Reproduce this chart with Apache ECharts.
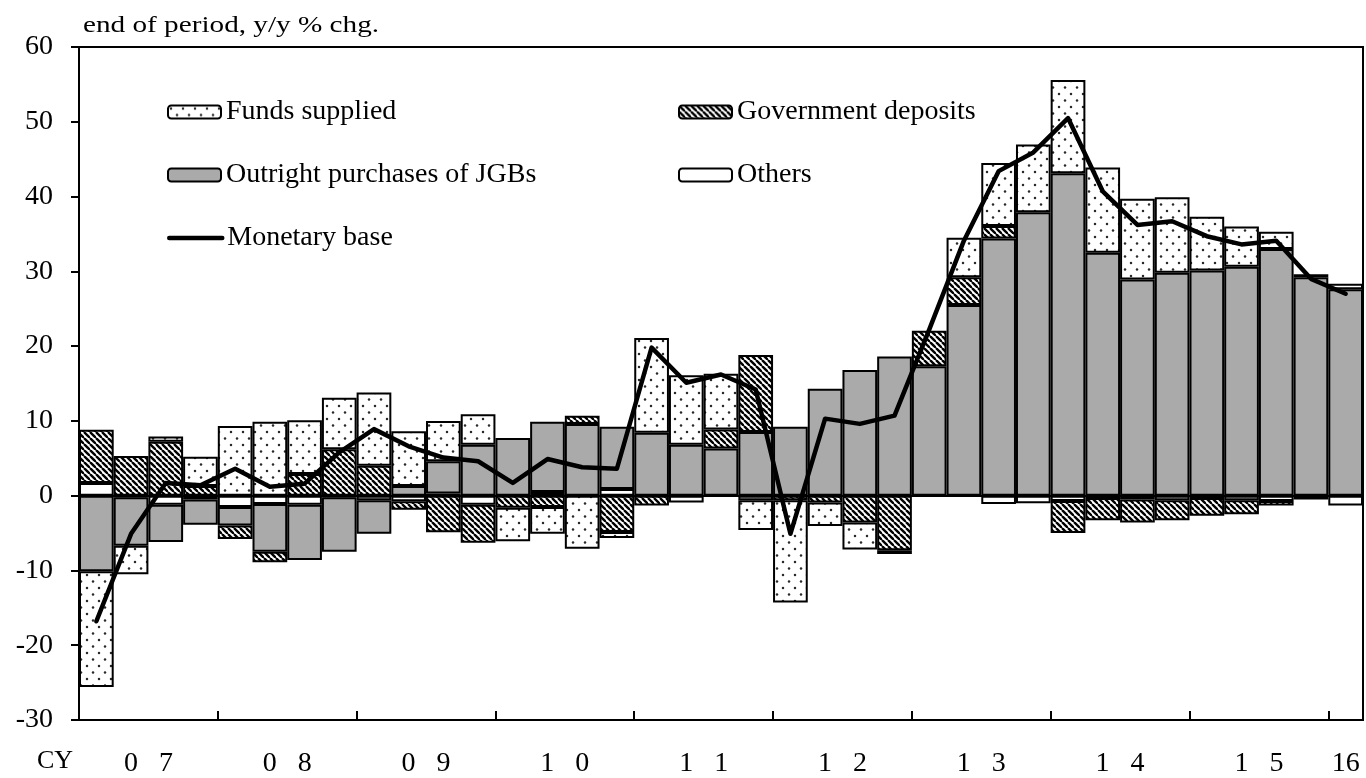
<!DOCTYPE html>
<html>
<head>
<meta charset="utf-8">
<script src="https://cdn.jsdelivr.net/npm/echarts@6/dist/echarts.min.js"></script>
<style>
html,body{margin:0;padding:0;background:#fff;}
#chart{width:1366px;height:778px;}
</style>
</head>
<body>
<div id="chart"></div>
<script>
// ---------- DATA ----------
const categories = [
  '2007Q1','2007Q2','2007Q3','2007Q4','2008Q1','2008Q2','2008Q3','2008Q4',
  '2009Q1','2009Q2','2009Q3','2009Q4','2010Q1','2010Q2','2010Q3','2010Q4',
  '2011Q1','2011Q2','2011Q3','2011Q4','2012Q1','2012Q2','2012Q3','2012Q4',
  '2013Q1','2013Q2','2013Q3','2013Q4','2014Q1','2014Q2','2014Q3','2014Q4',
  '2015Q1','2015Q2','2015Q3','2015Q4','2016Q1'
];
const others = [1.7,-0.2,-1.2,-0.5,-1.5,-1.1,-1.2,-0.2,-0.6,-0.75,0.3,-1.2,null,0.5,null,0.9,null,-0.9,null,-0.6,null,null,null,null,null,null,-1.1,-1.0,-0.7,-0.3,-0.5,-0.6,-0.3,-0.6,-0.7,-0.5,-1.3];
const jgbPurchases = [-10.1,-6.5,-5.0,-3.4,-2.5,-6.4,-7.4,-7.3,-4.5,1.3,4.3,6.8,7.7,9.4,9.6,8.3,8.4,6.8,6.3,8.5,9.2,14.3,16.8,18.6,17.3,25.5,34.4,37.9,43.1,32.5,28.9,29.8,30.1,30.6,33.0,29.2,27.6];
const govDeposits = [7.1,5.3,7.2,1.3,-1.8,-1.4,2.9,6.2,4.0,-1.15,-4.9,-5.1,-1.6,-1.5,1.1,-4.85,-1.3,null,2.55,10.3,-0.6,-0.9,-3.6,-7.3,4.75,3.7,1.65,null,-4.3,-3.0,-3.1,-2.7,-2.4,-1.9,-0.6,null,null];
const fundsSupplied = [-15.5,-3.8,0.7,3.9,9.3,9.9,7.2,6.9,9.8,7.3,5.4,4.1,-4.5,-3.6,-7.1,-0.8,12.7,9.3,7.45,-4.0,-13.7,-3.15,-3.6,-0.5,null,5.3,8.45,9.05,12.5,11.4,10.8,10.1,7.2,5.4,2.3,0.4,0.75];
const monetaryBase = [-16.8,-5.1,1.7,1.4,3.6,1.2,1.6,5.8,8.9,6.6,5.1,4.6,1.7,4.9,3.8,3.6,19.8,15.1,16.2,14.2,-5.1,10.3,9.6,10.7,22.2,34.1,43.4,45.9,50.5,40.7,36.2,36.7,34.7,33.6,34.1,29.0,27.0];
const yearTickLabels = ['0   7','0   8','0   9','1   0','1   1','1   2','1   3','1   4','1   5','16'];
const yTicks = [-30,-20,-10,0,10,20,30,40,50,60];

// ---------- PATTERNS ----------
function dotPattern(){
  const c = document.createElement('canvas'); c.width = 12; c.height = 13;
  const g = c.getContext('2d');
  g.fillStyle = '#fff'; g.fillRect(0,0,12,13);
  g.fillStyle = '#2a2a2a';
  [[3,3],[9,9.5]].forEach(function(p){ g.beginPath(); g.arc(p[0],p[1],1.25,0,Math.PI*2); g.fill(); });
  return c;
}
function hatchPattern(){
  const s = 6;
  const c = document.createElement('canvas'); c.width = s; c.height = s;
  const g = c.getContext('2d');
  g.fillStyle = '#fff'; g.fillRect(0,0,s,s);
  g.strokeStyle = '#000'; g.lineWidth = 2.4;
  for (let k = -1; k <= 1; k++) { g.beginPath(); g.moveTo(k*s, 0); g.lineTo(k*s + s, s); g.stroke(); }
  return c;
}
const dotFill = { image: dotPattern(), repeat: 'repeat' };
const hatchFill = { image: hatchPattern(), repeat: 'repeat' };

// ---------- YEAR LABEL POSITIONS (derived from categories) ----------
const years = [];
categories.forEach(function(c, i){
  const y = c.slice(0,4);
  let e = years.find(function(o){ return o.y === y; });
  if (!e) { e = { y: y, first: i, last: i }; years.push(e); }
  e.last = i;
});
const labelAt = {};
years.forEach(function(e, k){ labelAt[((e.first + e.last + 1) / 2).toFixed(1)] = yearTickLabels[k]; });

const FONT = '"Liberation Serif","Times New Roman",serif';
const nz = function(arr){ return arr.map(function(v){ return v === 0 ? null : v; }); };

const barCommon = {
  type: 'bar', stack: 'total', xAxisIndex: 0, yAxisIndex: 0,
  barCategoryGap: '0%', barGap: '0%',
  emphasis: { disabled: true }
};

const chart = echarts.init(document.getElementById('chart'), null, { renderer: 'canvas' });
chart.setOption({
  animation: false,
  backgroundColor: '#fff',
  textStyle: { fontFamily: FONT, color: '#000' },
  grid: { left: 79, right: 1, top: 47, bottom: 57, show: true, borderColor: '#000', borderWidth: 2, containLabel: false },
  legend: [
    { data: ['Funds supplied'], left: 167, top: 98 },
    { data: ['Government deposits'], left: 678, top: 98 },
    { data: ['Outright purchases of JGBs'], left: 167, top: 161 },
    { data: ['Others'], left: 678, top: 161 },
    { data: [{ name: 'Monetary base', itemStyle: { opacity: 0, color: 'rgba(0,0,0,0)', borderWidth: 0 }, lineStyle: { width: 4.5, color: '#000', cap: 'round' } }], left: 167, top: 224 }
  ].map(function(l){
    return Object.assign({
      orient: 'horizontal', padding: 0, itemWidth: 53, itemHeight: 13, itemGap: 0,
      selectedMode: false,
      textStyle: { fontFamily: FONT, fontSize: 28, color: '#000', padding: [0,0,0,0] }
    }, l);
  }),
  xAxis: [
    {
      type: 'category', data: categories, position: 'bottom', boundaryGap: true,
      axisLine: { show: true, onZero: false, lineStyle: { color: '#000', width: 2 } },
      axisTick: { show: true, inside: true, length: 9, interval: function(i){ return i % 4 === 0; }, lineStyle: { color: '#000', width: 2 } },
      axisLabel: { show: false },
      splitLine: { show: false }
    },
    {
      type: 'value', min: 0, max: categories.length, interval: 0.5, position: 'bottom',
      axisLine: { show: false }, axisTick: { show: false }, splitLine: { show: false },
      axisLabel: {
        show: true, fontFamily: FONT, fontSize: 28, color: '#000', margin: 30, hideOverlap: false,
        formatter: function(v){ const k = Number(v).toFixed(1); return labelAt[k] || ''; }
      }
    }
  ],
  yAxis: {
    type: 'value', min: yTicks[0], max: yTicks[yTicks.length-1], interval: 10,
    axisLine: { show: true, lineStyle: { color: '#000', width: 2 } },
    axisTick: { show: true, length: 8, lineStyle: { color: '#000', width: 2 } },
    axisLabel: { fontFamily: FONT, fontSize: 28, color: '#000', margin: 26 },
    splitLine: { show: false }
  },
  graphic: [
    { type: 'text', x: 83, y: 14, scaleX: 1.27, style: { text: 'end of period, y/y % chg.', font: '23px ' + FONT, fill: '#000', verticalAlign: 'top' } },
    { type: 'text', x: 37, y: 748, style: { text: 'CY', font: '26px ' + FONT, fill: '#000', verticalAlign: 'top' } }
  ],
  series: [
    Object.assign({}, barCommon, { name: 'Others', data: nz(others),
      itemStyle: { color: '#ffffff', borderColor: '#000', borderWidth: 2 } }),
    Object.assign({}, barCommon, { name: 'Outright purchases of JGBs', data: nz(jgbPurchases),
      itemStyle: { color: '#aaaaaa', borderColor: '#000', borderWidth: 2 } }),
    Object.assign({}, barCommon, { name: 'Government deposits', data: nz(govDeposits),
      itemStyle: { color: hatchFill, borderColor: '#000', borderWidth: 2 } }),
    Object.assign({}, barCommon, { name: 'Funds supplied', data: nz(fundsSupplied),
      itemStyle: { color: dotFill, borderColor: '#000', borderWidth: 2 } }),
    {
      name: 'Monetary base', type: 'line', data: monetaryBase, xAxisIndex: 0, yAxisIndex: 0,
      z: 5, showSymbol: false, symbol: 'none',
      lineStyle: { color: '#000', width: 4.5, join: 'round', cap: 'round' },
      itemStyle: { color: '#000' },
      emphasis: { disabled: true },
      markLine: {
        silent: true, symbol: ['none','none'], label: { show: false },
        lineStyle: { color: '#000', width: 2, type: 'solid' },
        data: [{ yAxis: 0 }]
      }
    }
  ]
});
</script>
</body>
</html>
